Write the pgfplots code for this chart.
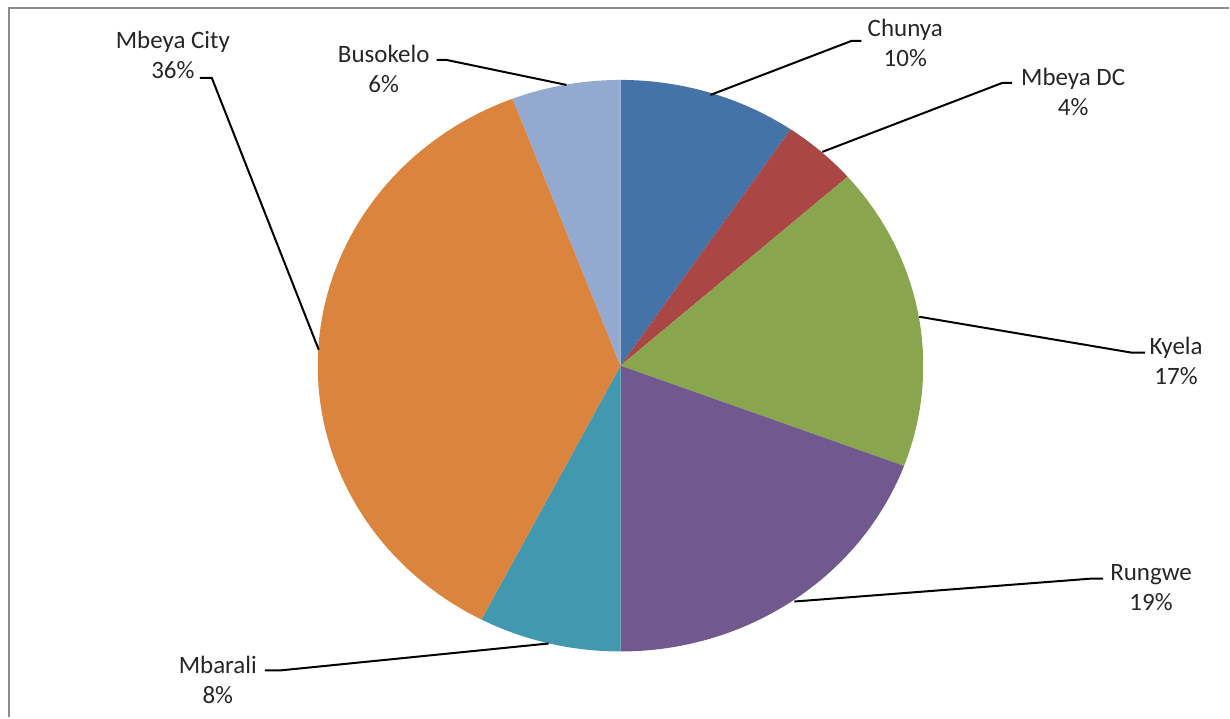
\documentclass[border=0pt]{standalone}
\usepackage{fontspec}
\setmainfont{Carlito}
\usepackage{pgfplots}
\pgfplotsset{compat=1.18}
\definecolor{cChunya}{HTML}{4572A7}
\definecolor{cMbeyaDC}{HTML}{AA4643}
\definecolor{cKyela}{HTML}{89A54E}
\definecolor{cRungwe}{HTML}{71588F}
\definecolor{cMbarali}{HTML}{4198AF}
\definecolor{cMbeyaCity}{HTML}{DB843D}
\definecolor{cBusokelo}{HTML}{93A9CF}
\newcommand{\lbl}{\fontsize{12.5}{15}\selectfont}
\begin{document}
\begin{tikzpicture}
\begin{axis}[scale only axis, width=615pt, height=359pt,
  xmin=0, xmax=1230, ymin=0, ymax=718, y dir=reverse,
  hide axis, clip=false]
\path (axis cs:0,0) rectangle (axis cs:1230,718);
% shares (%): Chunya 9.5, Mbeya DC 4.0, Kyela 17.2, Rungwe 19.3, Mbarali 7.6, Mbeya City 36.6, Busokelo 5.8
% clockwise from 90 deg, 3.6 deg per percent
\addplot[fill=cChunya, draw=none, domain=55.8:90, samples=40, variable=\t]
  ({621+303*cos(t)},{366-286*sin(t)}) -- (axis cs:621,366) -- cycle;
\addplot[fill=cMbeyaDC, draw=none, domain=41.4:55.8, samples=20, variable=\t]
  ({621+303*cos(t)},{366-286*sin(t)}) -- (axis cs:621,366) -- cycle;
\addplot[fill=cKyela, draw=none, domain=-20.52:41.4, samples=60, variable=\t]
  ({621+303*cos(t)},{366-286*sin(t)}) -- (axis cs:621,366) -- cycle;
\addplot[fill=cRungwe, draw=none, domain=-90:-20.52, samples=60, variable=\t]
  ({621+303*cos(t)},{366-286*sin(t)}) -- (axis cs:621,366) -- cycle;
\addplot[fill=cMbarali, draw=none, domain=-117.36:-90, samples=30, variable=\t]
  ({621+303*cos(t)},{366-286*sin(t)}) -- (axis cs:621,366) -- cycle;
\addplot[fill=cMbeyaCity, draw=none, domain=-249.12:-117.36, samples=100, variable=\t]
  ({621+303*cos(t)},{366-286*sin(t)}) -- (axis cs:621,366) -- cycle;
\addplot[fill=cBusokelo, draw=none, domain=-270:-249.12, samples=30, variable=\t]
  ({621+303*cos(t)},{366-286*sin(t)}) -- (axis cs:621,366) -- cycle;
% frame
\draw[gray!90, line width=1pt] (axis cs:9,718) -- (axis cs:9,8) -- (axis cs:1230,8);
% leader lines
\draw[black, line width=1pt] (axis cs:200,78) -- (axis cs:212,78) -- (axis cs:319,350);
\draw[black, line width=1pt] (axis cs:437,60) -- (axis cs:447,60) -- (axis cs:567,85);
\draw[black, line width=1pt] (axis cs:862,41) -- (axis cs:852,41) -- (axis cs:711,95);
\draw[black, line width=1pt] (axis cs:1013,83) -- (axis cs:1003,83) -- (axis cs:823,152);
\draw[black, line width=1pt] (axis cs:1146,353) -- (axis cs:1133,353) -- (axis cs:920,317);
\draw[black, line width=1pt] (axis cs:1104,579) -- (axis cs:1093,579) -- (axis cs:795,602);
\draw[black, line width=1pt] (axis cs:265,671) -- (axis cs:280,671) -- (axis cs:549,644);
% labels
\node[align=center, font=\lbl, text=black!85, inner sep=0pt] at (axis cs:173,55) {Mbeya City\\36\%};
\node[align=center, font=\lbl, text=black!85, inner sep=0pt] at (axis cs:384,69) {Busokelo\\6\%};
\node[align=center, font=\lbl, text=black!85, inner sep=0pt] at (axis cs:906,43) {Chunya\\10\%};
\node[align=center, font=\lbl, text=black!85, inner sep=0pt] at (axis cs:1074,92) {Mbeya DC\\4\%};
\node[align=center, font=\lbl, text=black!85, inner sep=0pt] at (axis cs:1177,361) {Kyela\\17\%};
\node[align=center, font=\lbl, text=black!85, inner sep=0pt] at (axis cs:1152,588) {Rungwe\\19\%};
\node[align=center, font=\lbl, text=black!85, inner sep=0pt] at (axis cs:218,680) {Mbarali\\8\%};
\end{axis}
\end{tikzpicture}
\end{document}
